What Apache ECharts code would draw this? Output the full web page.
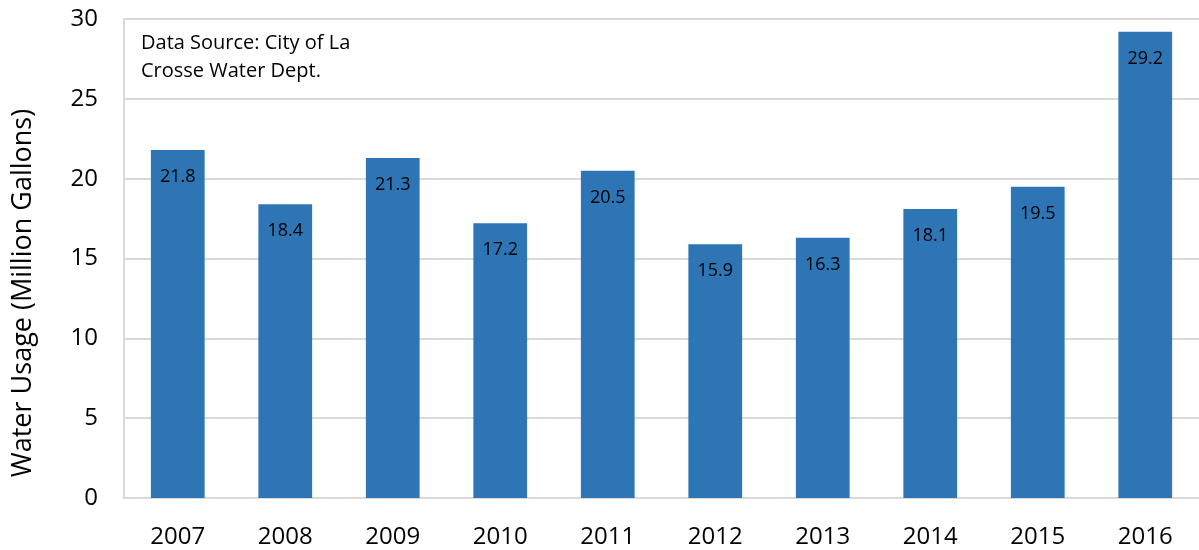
<!DOCTYPE html>
<html>
<head>
<meta charset="utf-8">
<script src="https://cdn.jsdelivr.net/npm/echarts@6/dist/echarts.min.js"></script>
<style>
  html, body { margin: 0; padding: 0; background: #fff; }
  #chart { width: 1199px; height: 550px; }
</style>
</head>
<body>
<div id="chart"></div>
<script>
// 年份和用水量（百万加仑）
const years = ['2007', '2008', '2009', '2010', '2011', '2012', '2013', '2014', '2015', '2016']
const usage = [21.8, 18.4, 21.3, 17.2, 20.5, 15.9, 16.3, 18.1, 19.5, 29.2]
const noteLines = ['Data Source: City of La', 'Crosse Water Dept.']
const yTitle = 'Water Usage (Million Gallons)'

const chart = echarts.init(document.getElementById('chart'))
const font = '"Open Sans", "Liberation Sans", sans-serif'

chart.setOption({
  animation: false,
  textStyle: { fontFamily: font },
  grid: { left: 124, top: 19, width: 1080, height: 479 },
  xAxis: {
    type: 'category',
    data: years,
    axisLine: { lineStyle: { color: '#d9d9d9', width: 2 } },
    axisTick: { show: false },
    axisLabel: { color: '#000', fontSize: 24, margin: 27, fontFamily: font }
  },
  yAxis: {
    type: 'value',
    min: 0,
    max: 30,
    interval: 5,
    axisLine: { show: true, lineStyle: { color: '#d9d9d9', width: 2 } },
    axisTick: { show: false },
    axisLabel: { color: '#000', fontSize: 24, margin: 26, fontFamily: font },
    splitLine: { lineStyle: { color: '#d9d9d9', width: 2 } }
  },
  graphic: [
    {
      // 左侧纵轴标题，位置比绘图区中心略低
      type: 'text',
      x: 23,
      y: 293,
      rotation: Math.PI / 2,
      style: {
        text: yTitle,
        font: '27px ' + font,
        fill: '#000',
        textAlign: 'center',
        textVerticalAlign: 'middle'
      }
    },
    {
      type: 'text',
      left: 141,
      top: 29,
      style: {
        text: noteLines.join('\n'),
        font: '20px ' + font,
        lineHeight: 28,
        fill: '#000'
      }
    }
  ],
  series: [
    {
      type: 'bar',
      data: usage,
      barWidth: '50%',
      itemStyle: { color: '#2e75b6' },
      label: {
        show: true,
        position: 'insideTop',
        distance: 18,
        color: '#000',
        fontSize: 18,
        fontFamily: font
      }
    }
  ]
})
</script>
</body>
</html>
